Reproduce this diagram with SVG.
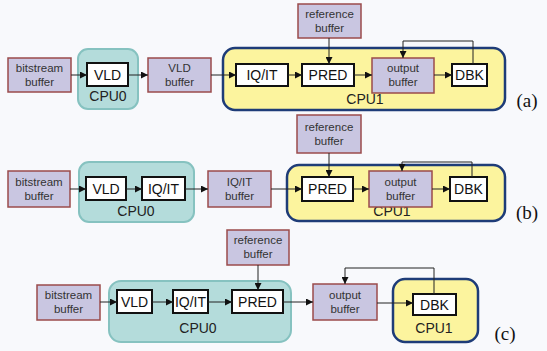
<svg xmlns="http://www.w3.org/2000/svg" width="547" height="351" viewBox="0 0 547 351">
<defs>
<marker id="ah" viewBox="0 0 8 8" refX="8" refY="4" markerWidth="7" markerHeight="7" markerUnits="userSpaceOnUse" orient="auto">
<path d="M0,0 L8,4 L0,8 z" fill="#111"/>
</marker>
</defs>
<style>
.buf{fill:#c9c6e1;stroke:#9a4b4b;stroke-width:1.5}
.cpu0{fill:#b4dcdb;stroke:#86c2c0;stroke-width:2}
.cpu1{fill:#fcf49e;stroke:#1e3c78;stroke-width:2.5}
.blk{fill:#ffffff;stroke:#111;stroke-width:2}
.bt{font-family:"Liberation Sans",Arial,sans-serif;font-size:11.5px;fill:#333;text-anchor:middle}
.kt{font-family:"Liberation Sans",Arial,sans-serif;font-size:14px;fill:#111;text-anchor:middle}
.ct{font-family:"Liberation Sans",Arial,sans-serif;font-size:14px;fill:#222;text-anchor:middle}
.pt{font-family:"Liberation Serif","Times New Roman",serif;font-size:19px;fill:#111;text-anchor:middle}
.ln{fill:none;stroke:#222;stroke-width:1}
</style>
<rect x="0" y="0" width="547" height="351" fill="#f8f9fc"/>

<!-- Panel (a) -->
<g id="a-cpu0"><rect class="cpu0" x="78" y="49" width="60" height="60" rx="10"/><text class="ct" x="108" y="101">CPU0</text></g>
<g id="a-cpu1"><rect class="cpu1" x="223" y="48" width="282" height="62" rx="12"/><text class="ct" x="365" y="104">CPU1</text></g>
<g id="a-bitstream"><rect class="buf" x="8" y="58" width="63" height="34"/><text class="bt" x="39.5" y="72">bitstream</text><text class="bt" x="39.5" y="86">buffer</text></g>
<g id="a-vld"><rect class="blk" x="87" y="63" width="41" height="23"/><text class="kt" x="107.5" y="80">VLD</text></g>
<g id="a-vldbuf"><rect class="buf" x="148" y="58" width="63" height="34"/><text class="bt" x="179.5" y="72">VLD</text><text class="bt" x="179.5" y="86">buffer</text></g>
<g id="a-iqit"><rect class="blk" x="236" y="64" width="52" height="22"/><text class="kt" x="262" y="80">IQ/IT</text></g>
<g id="a-pred"><rect class="blk" x="302" y="64" width="52" height="22"/><text class="kt" x="328" y="80">PRED</text></g>
<g id="a-ref"><rect class="buf" x="298" y="4" width="63" height="34"/><text class="bt" x="329.5" y="18">reference</text><text class="bt" x="329.5" y="32">buffer</text></g>
<g id="a-out"><rect class="buf" x="372" y="58" width="62" height="35"/><text class="bt" x="403" y="72">output</text><text class="bt" x="403" y="86">buffer</text></g>
<g id="a-dbk"><rect class="blk" x="452" y="64" width="35" height="22"/><text class="kt" x="469.5" y="80">DBK</text></g>
<text class="pt" x="527" y="107">(a)</text>

<!-- Panel (b) -->
<g id="b-cpu0"><rect class="cpu0" x="79" y="162" width="115" height="60" rx="10"/><text class="ct" x="136" y="216">CPU0</text></g>
<g id="b-cpu1"><rect class="cpu1" x="287" y="165" width="218" height="56" rx="12"/><text class="ct" x="392" y="216">CPU1</text></g>
<g id="b-bitstream"><rect class="buf" x="8" y="171" width="62" height="36"/><text class="bt" x="39" y="186">bitstream</text><text class="bt" x="39" y="200">buffer</text></g>
<g id="b-vld"><rect class="blk" x="86" y="177" width="40" height="23"/><text class="kt" x="106" y="194">VLD</text></g>
<g id="b-iqit"><rect class="blk" x="142" y="177" width="43" height="23"/><text class="kt" x="163.5" y="194">IQ/IT</text></g>
<g id="b-iqitbuf"><rect class="buf" x="208" y="171" width="63" height="36"/><text class="bt" x="239.5" y="186">IQ/IT</text><text class="bt" x="239.5" y="200">buffer</text></g>
<g id="b-ref"><rect class="buf" x="297" y="115" width="64" height="38"/><text class="bt" x="329" y="131">reference</text><text class="bt" x="329" y="145">buffer</text></g>
<g id="b-pred"><rect class="blk" x="302" y="177" width="51" height="24"/><text class="kt" x="327.5" y="194">PRED</text></g>
<g id="b-out"><rect class="buf" x="369" y="171" width="63" height="36"/><text class="bt" x="400.5" y="186">output</text><text class="bt" x="400.5" y="200">buffer</text></g>
<g id="b-dbk"><rect class="blk" x="450" y="177" width="37" height="24"/><text class="kt" x="468.5" y="194">DBK</text></g>
<text class="pt" x="527" y="219">(b)</text>

<!-- Panel (c) -->
<g id="c-cpu0"><rect class="cpu0" x="109" y="281" width="182" height="61" rx="12"/><text class="ct" x="198" y="333">CPU0</text></g>
<g id="c-cpu1"><rect class="cpu1" x="393" y="279" width="85" height="63" rx="12"/><text class="ct" x="434" y="333">CPU1</text></g>
<g id="c-ref"><rect class="buf" x="227" y="230" width="62" height="35"/><text class="bt" x="258" y="244">reference</text><text class="bt" x="258" y="258">buffer</text></g>
<g id="c-bitstream"><rect class="buf" x="37" y="285" width="63" height="35"/><text class="bt" x="68.5" y="299">bitstream</text><text class="bt" x="68.5" y="313">buffer</text></g>
<g id="c-vld"><rect class="blk" x="117" y="290" width="35" height="23"/><text class="kt" x="134.5" y="307">VLD</text></g>
<g id="c-iqit"><rect class="blk" x="173" y="290" width="35" height="23"/><text class="kt" x="190.5" y="307">IQ/IT</text></g>
<g id="c-pred"><rect class="blk" x="232" y="290" width="51" height="23"/><text class="kt" x="257.5" y="307">PRED</text></g>
<g id="c-out"><rect class="buf" x="313" y="284" width="64" height="36"/><text class="bt" x="345" y="299">output</text><text class="bt" x="345" y="313">buffer</text></g>
<g id="c-dbk"><rect class="blk" x="413" y="294" width="43" height="21"/><text class="kt" x="434.5" y="310">DBK</text></g>
<text class="pt" x="505" y="340">(c)</text>

<g id="connectors" class="ln">
<line class="ln" x1="71" y1="75" x2="87" y2="75" marker-end="url(#ah)"/>
<line class="ln" x1="128" y1="75" x2="148" y2="75" marker-end="url(#ah)"/>
<line class="ln" x1="211" y1="75" x2="236" y2="75" marker-end="url(#ah)"/>
<line class="ln" x1="288" y1="75" x2="302" y2="75" marker-end="url(#ah)"/>
<line class="ln" x1="354" y1="75" x2="372" y2="75" marker-end="url(#ah)"/>
<line class="ln" x1="434" y1="75" x2="452" y2="75" marker-end="url(#ah)"/>
<line class="ln" x1="329" y1="38" x2="329" y2="64" marker-end="url(#ah)"/>
<polyline class="ln" points="473,64 473,41 403,41 403,58" marker-end="url(#ah)"/>

<line class="ln" x1="70" y1="189" x2="86" y2="189" marker-end="url(#ah)"/>
<line class="ln" x1="126" y1="189" x2="142" y2="189" marker-end="url(#ah)"/>
<line class="ln" x1="185" y1="189" x2="208" y2="189" marker-end="url(#ah)"/>
<line class="ln" x1="271" y1="189" x2="302" y2="189" marker-end="url(#ah)"/>
<line class="ln" x1="353" y1="189" x2="369" y2="189" marker-end="url(#ah)"/>
<line class="ln" x1="432" y1="189" x2="450" y2="189" marker-end="url(#ah)"/>
<line class="ln" x1="329" y1="153" x2="329" y2="177" marker-end="url(#ah)"/>
<polyline class="ln" points="472,177 472,162 402,162 402,171" marker-end="url(#ah)"/>

<line class="ln" x1="100" y1="302" x2="117" y2="302" marker-end="url(#ah)"/>
<line class="ln" x1="152" y1="302" x2="173" y2="302" marker-end="url(#ah)"/>
<line class="ln" x1="208" y1="302" x2="232" y2="302" marker-end="url(#ah)"/>
<line class="ln" x1="283" y1="302" x2="313" y2="302" marker-end="url(#ah)"/>
<line class="ln" x1="377" y1="303" x2="413" y2="303" marker-end="url(#ah)"/>
<line class="ln" x1="258" y1="265" x2="258" y2="290" marker-end="url(#ah)"/>
<polyline class="ln" points="434,294 434,268 345,268 345,284" marker-end="url(#ah)"/>
</g>
</svg>
